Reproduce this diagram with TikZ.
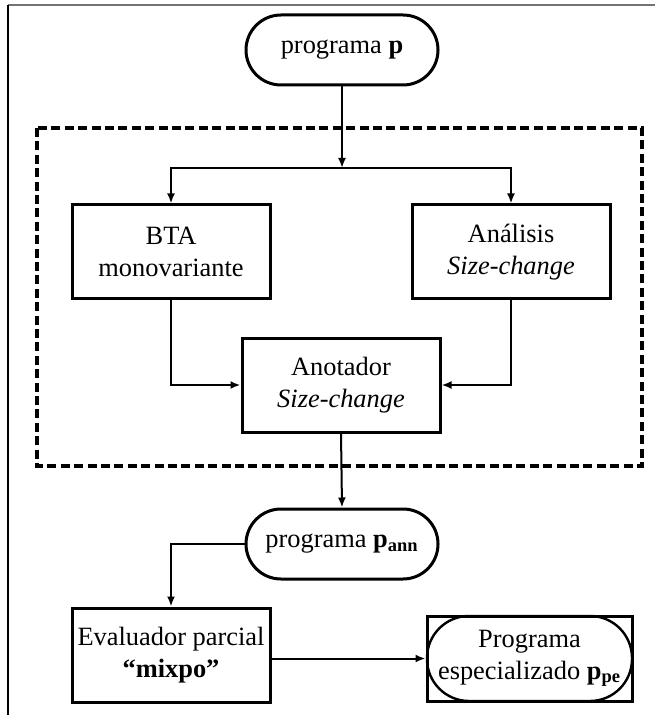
\documentclass[tikz,border=0pt]{standalone}
\usepackage{fontspec}
\setmainfont{Liberation Serif}
\usetikzlibrary{arrows.meta}
\begin{document}
\begin{tikzpicture}[x=0.5pt,y=-0.5pt,
  every node/.style={font=\fontsize{13.2}{16}\selectfont, align=center, inner sep=0pt},
  procbox/.style={draw, line width=1.5pt, minimum width=99pt, minimum height=47pt},
  termbox/.style={draw, line width=1.5pt, minimum width=96pt, minimum height=35pt, rounded corners=17.5pt},
  link/.style={line width=1pt},
  arr/.style={link, -{Latex[length=5pt,width=4pt]}},
  groupbox/.style={draw, line width=1.6pt, dash pattern=on 4.5pt off 2.2pt}
]
\useasboundingbox (0,0) rectangle (655,715);
% page frame
\draw[line width=1pt, black!55] (8,5.5) -- (655,5.5);
\draw[line width=1pt] (8,5) -- (8,715);

% grouping of the annotation stage
\draw[groupbox] (37,128) rectangle (642,466);

% nodes
\node[termbox] (p) at (342,50) {programa \textbf{p}};
\node[procbox] (bta) at (171,252) {BTA\\monovariante};
\node[procbox] (ana) at (511,252) {Análisis\\\textit{Size-change}};
\node[procbox] (anot) at (341,385) {Anotador\\\textit{Size-change}};
\node[termbox] (pann) at (342,544) {programa \textbf{p}\textsubscript{\textbf{ann}}};
\node[procbox] (eval) at (171,655) {Evaluador parcial\\\textbf{“mixpo”}};
\node[draw, line width=1.5pt, minimum width=102.5pt, minimum height=42.5pt] (pe) at (529.5,658.5) {};
\node[draw, line width=1.2pt, minimum width=102.5pt, minimum height=42.5pt, rounded corners=21pt] (pein) at (pe.center) {Programa\\especializado \textbf{p}\textsubscript{\textbf{pe}}};

% connectors
\coordinate (split) at (342,168);
\draw[arr] (p.south) -- (split);
\draw[arr] (split) -| (bta.north);
\draw[arr] (split) -| (ana.north);
\draw[arr] (bta.south) |- (anot.west);
\draw[arr] (ana.south) |- (anot.east);
\draw[arr] (anot.south) -- (pann.north);
\draw[arr] (pann.west) -| (eval.north);
\draw[arr] (eval.east |- pe.west) -- (pe.west);
\end{tikzpicture}
\end{document}
